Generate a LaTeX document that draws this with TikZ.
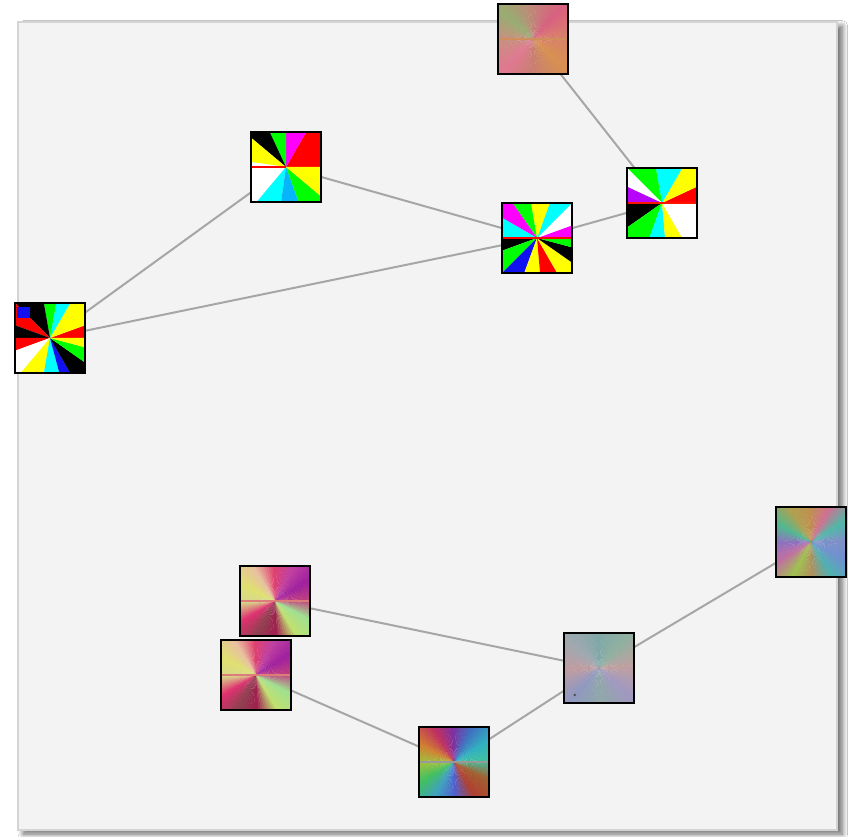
\documentclass[tikz,border=0pt]{standalone}
\usetikzlibrary{shadows.blur}

% layers: panel at the back, then the links, then the thumbnails
\pgfdeclarelayer{bg}
\pgfdeclarelayer{links}
\pgfsetlayers{bg,links,main}

% thumbnail palettes
\definecolor{panelfill}{HTML}{F3F3F3}
\definecolor{paneledge}{HTML}{D4D4D4}
\definecolor{linkgray}{HTML}{A6A6A6}
\definecolor{vcyan}{HTML}{00FFFF}
\definecolor{vmag}{HTML}{FF00FF}
\definecolor{vyel}{HTML}{FFFF00}
\definecolor{vblue}{HTML}{1010F0}
% muted mosaic (top)
\definecolor{ta}{HTML}{D8806A}\definecolor{tb}{HTML}{D86080}\definecolor{tc}{HTML}{C08878}
\definecolor{td}{HTML}{98AC72}\definecolor{te}{HTML}{C89080}\definecolor{tf}{HTML}{E07890}
\definecolor{tg}{HTML}{C88070}\definecolor{th}{HTML}{D89050}
% mirrored rainbow (right)
\definecolor{sa}{HTML}{8090C8}\definecolor{sb}{HTML}{50B8A8}\definecolor{sc}{HTML}{D07090}
\definecolor{sd}{HTML}{C09050}\definecolor{se}{HTML}{B0A050}\definecolor{sf}{HTML}{50B890}
\definecolor{sg}{HTML}{9070C0}\definecolor{sh}{HTML}{C070A0}\definecolor{si}{HTML}{A0C050}
\definecolor{sj}{HTML}{B09060}\definecolor{sk}{HTML}{50B0B0}\definecolor{sl}{HTML}{7090D0}
% pastel pink/yellow wheel
\definecolor{pa}{HTML}{C04080}\definecolor{pb}{HTML}{A020A0}\definecolor{pc}{HTML}{C040A0}
\definecolor{pd}{HTML}{E04070}\definecolor{pe}{HTML}{E8C0A0}\definecolor{pf}{HTML}{E0E070}
\definecolor{pg}{HTML}{D8D888}\definecolor{ph}{HTML}{E03070}\definecolor{pi}{HTML}{904050}
\definecolor{pj}{HTML}{A02050}\definecolor{pk}{HTML}{C0E070}\definecolor{pl}{HTML}{A0E090}
% muted pastel wheel
\definecolor{ma}{HTML}{C0A0A0}\definecolor{mb}{HTML}{90B0A0}\definecolor{mc}{HTML}{80A8A8}
\definecolor{md}{HTML}{A0A8B0}\definecolor{me}{HTML}{C09CA0}\definecolor{mf}{HTML}{9098C0}
\definecolor{mg}{HTML}{90A8A8}\definecolor{mh}{HTML}{A098C0}
% vivid hue wheel (bottom)
\definecolor{ra}{HTML}{40C0A0}\definecolor{rb}{HTML}{30B0C0}\definecolor{rc}{HTML}{4070C0}
\definecolor{rd}{HTML}{8030A0}\definecolor{re}{HTML}{C03060}\definecolor{rf}{HTML}{D08030}
\definecolor{rg}{HTML}{A0C040}\definecolor{rh}{HTML}{40C060}\definecolor{ri}{HTML}{40A0C0}
\definecolor{rj}{HTML}{5060D0}\definecolor{rk}{HTML}{B04030}\definecolor{rl}{HTML}{A06030}

% smooth angular gradient: #1 = number of key colours, #2 = list of consecutive pairs
\newcommand\smoothwheel[2]{%
  \pgfmathsetmacro\wseg{360/#1}%
  \foreach \ca/\cb [count=\k from 0] in {#2}{%
    \foreach \j in {0,...,7}{%
      \pgfmathsetmacro\wa{\k*\wseg+\j*\wseg/8}%
      \pgfmathsetmacro\wb{\wa+\wseg/8+0.6}%
      \pgfmathsetmacro\wp{100-\j*12.5}%
      \fill[\ca!\wp!\cb] (path picture bounding box.center) -- +(\wa:45pt) -- +(\wb:45pt) -- cycle;
    }%
  }%
}
% hard-edged sectors: list of start/end/colour
\newcommand\hardwheel[1]{%
  \foreach \wa/\wb/\wc in {#1}{%
    \fill[\wc] (path picture bounding box.center) -- +(\wa:45pt)
      arc[start angle=\wa, end angle=\wb, radius=45pt] -- cycle;
  }%
}
\newcommand\midline[1]{%
  \draw[#1, line width=1.2pt] (path picture bounding box.west) -- (path picture bounding box.east);}

\tikzset{
  thumb/.style={draw=black, line width=2.2pt, minimum size=52.5pt, inner sep=0pt, outer sep=0pt},
  link/.style={draw=linkgray, line width=1.5pt},
  panel/.style={fill=panelfill, draw=paneledge, line width=2pt,
    blur shadow={shadow xshift=4pt, shadow yshift=-3pt, shadow blur radius=4pt,
      shadow blur steps=12, shadow opacity=60}},
}

\begin{document}
\begin{tikzpicture}[x=0.75pt, y=-0.75pt]
\useasboundingbox (0,0) rectangle (860,837);

\begin{pgfonlayer}{bg}
  \fill[white] (0,0) rectangle (860,837);
  \path[panel] (18,22) rectangle (837,830);
\end{pgfonlayer}

% upper cluster
\node[thumb, path picture={\smoothwheel{8}{ta/tb, tb/tc, tc/td, td/te, te/tf, tf/tg, tg/th, th/ta}
    \midline{th!70!tc}}] (n1) at (533,39) {};
\node[thumb, path picture={\hardwheel{0/60/red, 60/90/vmag, 90/115/green, 115/140/black,
    140/172/vyel, 172/185/white, 185/230/white, 230/262/vcyan, 262/290/vcyan!70!vblue,
    290/320/green, 320/360/vyel}
    \draw[red, line width=1pt] (path picture bounding box.west) -- (path picture bounding box.center);}] (n2) at (286,167) {};
\node[thumb, path picture={\hardwheel{0/20/vmag, 20/45/white, 45/70/vcyan, 70/100/vyel,
    100/125/green, 125/150/vmag, 150/180/vcyan, 180/200/black, 200/225/green, 225/250/vblue,
    250/275/vyel, 275/300/red, 300/325/vyel, 325/345/black, 345/360/green}
    \midline{red}}] (n3) at (537,238) {};
\node[thumb, path picture={\hardwheel{0/25/red, 25/60/vyel, 60/100/vcyan, 100/135/green,
    135/155/white, 155/180/vmag!70!vblue, 180/215/black, 215/250/green, 250/275/vcyan,
    275/300/vyel, 300/360/white}
    \midline{red!85!orange}}] (n4) at (662,203) {};
\node[thumb, path picture={\hardwheel{0/20/red, 20/60/vyel, 60/80/vcyan, 80/100/green,
    100/135/black, 135/160/red, 160/180/black, 180/200/red, 200/230/white, 230/260/vyel,
    260/285/vcyan, 285/300/vblue, 300/325/black, 325/345/green, 345/360/vyel}
    \fill[vblue] ([xshift=1.5pt,yshift=-3pt]path picture bounding box.north west) rectangle +(10pt,-8pt);}] (n5) at (50,338) {};

% lower cluster
\node[thumb, path picture={\smoothwheel{12}{sa/sb, sb/sc, sc/sd, sd/se, se/sf, sf/sg, sg/sh,
    sh/si, si/sj, sj/sk, sk/sl, sl/sa}}] (n6) at (811,542) {};
\node[thumb, path picture={\smoothwheel{12}{pa/pb, pb/pc, pc/pd, pd/pe, pe/pf, pf/pg, pg/ph,
    ph/pi, pi/pj, pj/pk, pk/pl, pl/pa}\midline{pd!60!pg}}] (n7) at (275,601) {};
\node[thumb, path picture={\smoothwheel{12}{pa/pb, pb/pc, pc/pd, pd/pe, pe/pf, pf/pg, pg/ph,
    ph/pi, pi/pj, pj/pk, pk/pl, pl/pa}\midline{pd!60!pg}}] (n8) at (256,675) {};
\node[thumb, path picture={\smoothwheel{8}{ma/mb, mb/mc, mc/md, md/me, me/mf, mf/mg, mg/mh, mh/ma}
    \fill[black!70] ([xshift=8pt,yshift=6pt]path picture bounding box.south west) circle (1pt);}] (n9) at (599,668) {};
\node[thumb, path picture={\smoothwheel{12}{ra/rb, rb/rc, rc/rd, rd/re, re/rf, rf/rg, rg/rh,
    rh/ri, ri/rj, rj/rk, rk/rl, rl/ra}\midline{gray!80}}] (n10) at (454,762) {};

\begin{pgfonlayer}{links}
  \draw[link] (n1) -- (n4);
  \draw[link] (n2) -- (n3);
  \draw[link] (n3) -- (n4);
  \draw[link] (n2) -- (n5);
  \draw[link] (n5) -- (n3);
  \draw[link] (n7) -- (n9);
  \draw[link] (n8) -- (n10);
  \draw[link] (n10) -- (n9);
  \draw[link] (n9) -- (n6);
\end{pgfonlayer}
\end{tikzpicture}
\end{document}
